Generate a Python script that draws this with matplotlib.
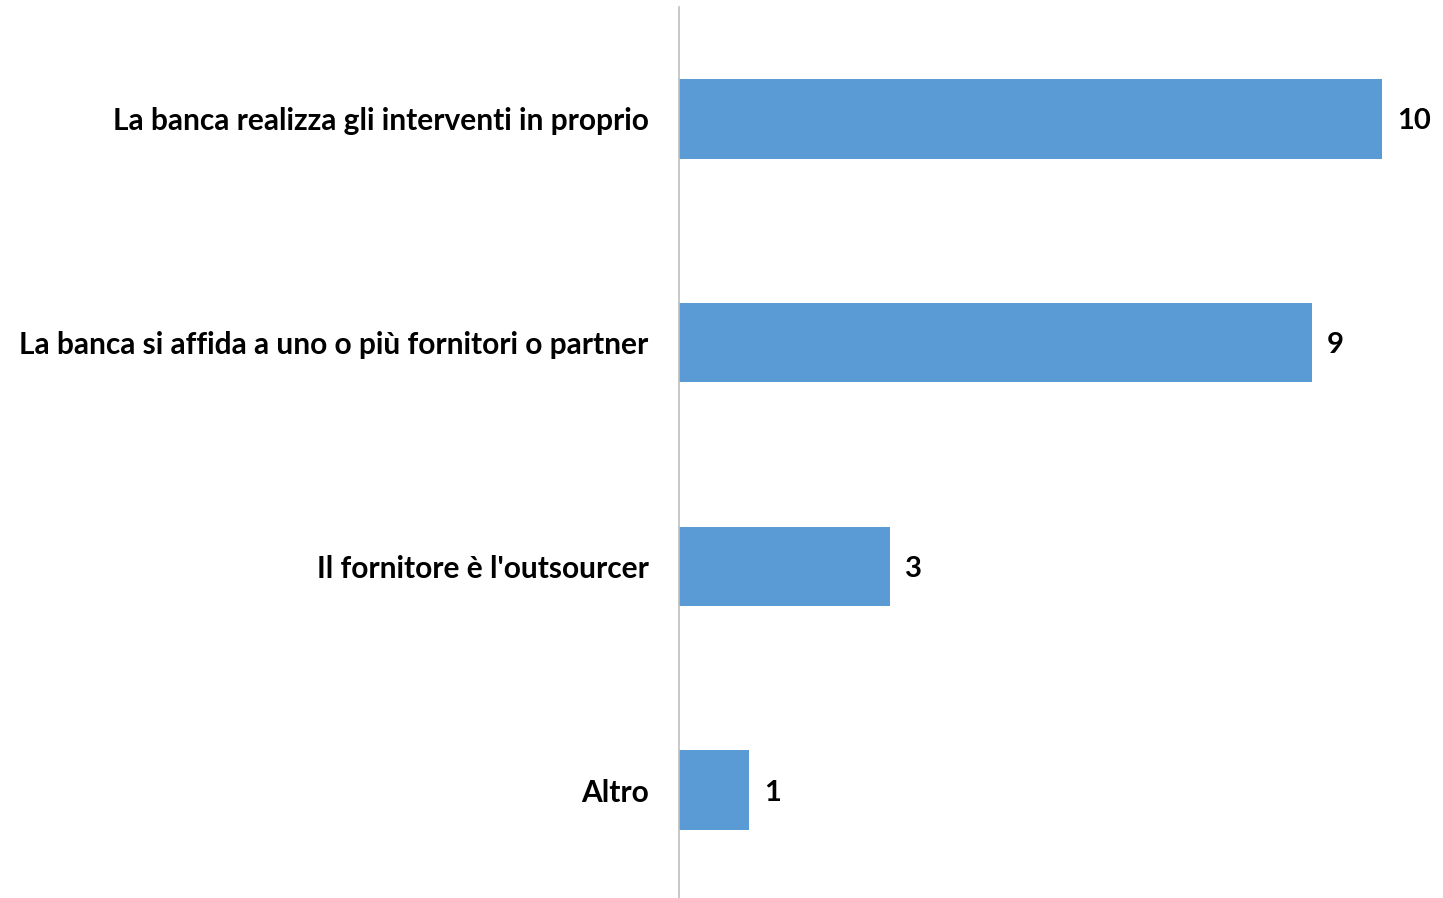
import matplotlib.pyplot as plt

categories = ['La banca realizza gli interventi in proprio',
              'La banca si affida a uno o più fornitori o partner',
              "Il fornitore è l'outsourcer",
              'Altro']
values = [10, 9, 3, 1]

plt.rcParams['font.family'] = ['Lato', 'DejaVu Sans']

fig = plt.figure(figsize=(14.43, 8.98), dpi=100)
ax = fig.add_axes([679 / 1443, -4 / 898, (1440 - 679) / 1443, 895 / 898])

pos = list(range(len(categories)))
ax.barh(pos, values, height=0.355, color='#5B9BD5')
ax.set_ylim(3.5, -0.5)
ax.set_xlim(0, (1440 - 679) / 70.3)

for p, v in zip(pos, values):
    ax.annotate(str(v), (v, p), xytext=(11, 0), textcoords='offset points',
                va='center_baseline', ha='left', fontsize=21, fontweight='bold')

ax.set_yticks(pos)
ax.set_yticklabels(categories, fontsize=21.5, fontweight='bold')
for t in ax.get_yticklabels():
    t.set_verticalalignment('center_baseline')
ax.tick_params(axis='y', length=0, pad=22)
ax.set_xticks([])
for s in ['top', 'right', 'bottom']:
    ax.spines[s].set_visible(False)
ax.spines['left'].set_color('#BFBFBF')
ax.spines['left'].set_linewidth(1.2)

fig.savefig('out.png', dpi=100)
